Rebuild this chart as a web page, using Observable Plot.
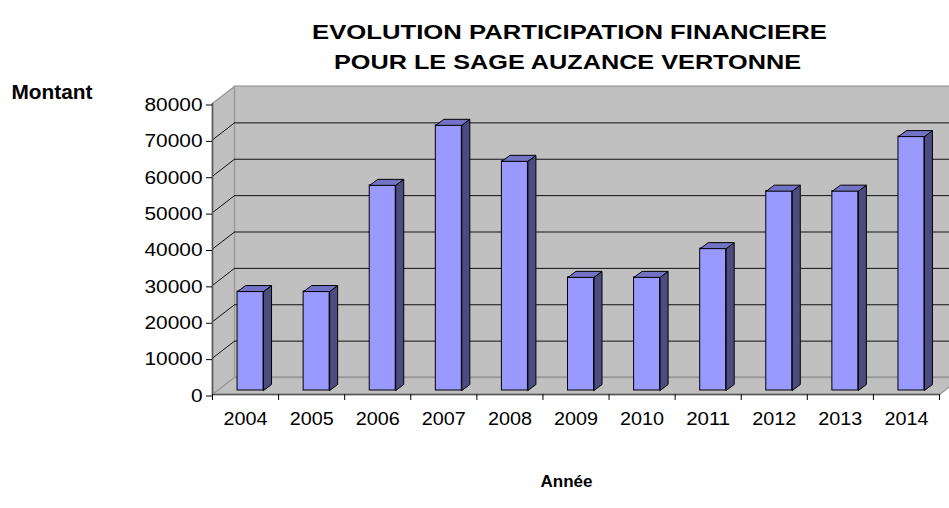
<!DOCTYPE html>
<html><head><meta charset="utf-8">
<script src="https://cdn.jsdelivr.net/npm/d3@7"></script>
<script src="https://cdn.jsdelivr.net/npm/@observablehq/plot@0.6"></script>
<style>html,body{margin:0;padding:0;background:#fff;overflow:hidden}</style>
</head><body><div id="chart"></div>
<script>
// ---- data ----
const years = [2004, 2005, 2006, 2007, 2008, 2009, 2010, 2011, 2012, 2013, 2014];
const amounts = [27200, 27200, 56400, 72900, 63000, 31100, 31100, 39000, 54800, 54800, 69800];
const yTicks = [0, 10000, 20000, 30000, 40000, 50000, 60000, 70000, 80000];
const titleLine1 = "EVOLUTION PARTICIPATION FINANCIERE";
const titleLine2 = "POUR LE SAGE AUZANCE VERTONNE";
const yLabel = "Montant";
const xLabel = "Année";

// ---- layout ----
const W = 949, H = 508;
const margin = {top: 103, right: 10, bottom: 114, left: 212};
const xDomain = [years[0] - 0.5, years[years.length - 1] + 0.5];
const yDomain = [yTicks[0], yTicks[yTicks.length - 1]];
const pxX = (xDomain[1] - xDomain[0]) / (W - margin.left - margin.right);
const pxY = (yDomain[1] - yDomain[0]) / (H - margin.top - margin.bottom);

// pseudo-3D depth offsets (pixels)
const wallDX = 22, wallDY = 17;
const barDX = 5, barDY = 4, barDepthX = 8, barDepthY = 6, barHalf = 13;

const wX = wallDX * pxX, wY = wallDY * pxY;
const x0 = xDomain[0], x1 = xDomain[1];
const hw = barHalf * pxX, ddx = barDepthX * pxX, ddy = barDepthY * pxY;

const data = years.map((year, i) => ({year, value: amounts[i]}));
const boundaries = [x0, ...years.map(y => y + 0.5)];

const pt = (id, x, y) => ({id, x, y});
const leftWall = [[x0, 0], [x0, yDomain[1]], [x0 + wX, yDomain[1] + wY], [x0 + wX, wY], [x0, 0]].map(([x, y]) => pt(0, x, y));
const floor = [[x0, 0], [x1, 0], [x1 + wX, wY], [x0 + wX, wY], [x0, 0]].map(([x, y]) => pt(0, x, y));
const sides = data.flatMap(d => {
  const xr = d.year + hw;
  return [[xr, 0], [xr + ddx, ddy], [xr + ddx, d.value + ddy], [xr, d.value], [xr, 0]].map(([x, y]) => pt(d.year, x, y));
});
const tops = data.flatMap(d => {
  const a = d.year - hw, b = d.year + hw, v = d.value;
  return [[a, v], [b, v], [b + ddx, v + ddy], [a + ddx, v + ddy], [a, v]].map(([x, y]) => pt(d.year, x, y));
});
const innerGrid = yTicks.slice(1, -1);
const fmtY = d3.format("d");

const chart = Plot.plot({
  width: W, height: H,
  marginTop: margin.top, marginRight: margin.right, marginBottom: margin.bottom, marginLeft: margin.left,
  x: {type: "linear", domain: xDomain},
  y: {type: "linear", domain: yDomain},
  style: {fontFamily: "'Liberation Sans', Arial, sans-serif", background: "#fff", color: "#000", overflow: "hidden"},
  marks: [
    // back wall
    Plot.rect([0], {x1: x0 + wX, x2: x1 + 3 * wX, y1: wY, y2: yDomain[1] + wY, fill: "#C0C0C0", stroke: "#8a8a8a"}),
    // left wall and floor
    Plot.line(leftWall, {x: "x", y: "y", fill: "#C0C0C0", stroke: "#9a9a9a"}),
    Plot.line(floor, {x: "x", y: "y", fill: "#C0C0C0", stroke: "#9a9a9a"}),
    // gridlines
    Plot.ruleY(innerGrid, {y: d => d + wY, x1: x0 + wX, x2: x1 + 3 * wX, stroke: "#111"}),
    Plot.link(innerGrid, {x1: x0, y1: d => d, x2: x0 + wX, y2: d => d + wY, stroke: "#111"}),
    // bars
    Plot.rect(data, {x1: d => d.year - hw, x2: d => d.year + hw, y1: 0, y2: "value", dx: barDX, dy: -barDY, fill: "#9999FF", stroke: "#000", strokeWidth: 1}),
    Plot.line(sides, {x: "x", y: "y", z: "id", dx: barDX, dy: -barDY, fill: "#4C4C80", stroke: "#000", strokeWidth: 1}),
    Plot.line(tops, {x: "x", y: "y", z: "id", dx: barDX, dy: -barDY, fill: "#7373C6", stroke: "#000", strokeWidth: 1}),
    // axis lines
    Plot.ruleX([x0], {y1: yDomain[0], y2: yDomain[1], stroke: "#555", strokeWidth: 1.5}),
    Plot.ruleY([0], {x1: x0, x2: x1, stroke: "#555", strokeWidth: 1.5}),
    // axes
    Plot.axisY(yTicks, {anchor: "left", tickSize: 6, tickPadding: 4, tickFormat: fmtY, fontSize: 18, label: null, dy: 1.5}),
    Plot.axisX(boundaries, {anchor: "bottom", tickSize: 6, tickFormat: () => "", label: null}),
    Plot.axisX(years, {anchor: "bottom", tickSize: 0, tickPadding: 17, tickFormat: d => String(d), fontSize: 19, label: null}),
    // titles and axis titles
    Plot.text([titleLine1], {frameAnchor: "top-left", text: d => d, dx: 569 - margin.left, dy: 23.3 - margin.top, fontSize: 21, fontWeight: "bold", textAnchor: "middle"}),
    Plot.text([titleLine2], {frameAnchor: "top-left", text: d => d, dx: 567 - margin.left, dy: 53.3 - margin.top, fontSize: 21, fontWeight: "bold", textAnchor: "middle"}),
    Plot.text([yLabel], {frameAnchor: "top-left", text: d => d, dx: 11 - margin.left, dy: 84.6 - margin.top, fontSize: 20, fontWeight: "bold", textAnchor: "start"}),
    Plot.text([xLabel], {frameAnchor: "top-left", text: d => d, dx: 566 - margin.left, dy: 474.6 - margin.top, fontSize: 17, fontWeight: "bold", textAnchor: "middle"})
  ]
});

// horizontally stretch texts to the widths seen in the reference
const stretch = new Map([[titleLine1, 515], [titleLine2, 467], [yLabel, 81]]);
yTicks.forEach(v => { const s = fmtY(v); stretch.set(s, 11.6 * s.length); });
years.forEach(v => { const s = String(v); stretch.set(s, 44); });
chart.querySelectorAll("text").forEach(t => {
  const s = t.textContent;
  if (stretch.has(s)) { t.setAttribute("textLength", stretch.get(s)); t.setAttribute("lengthAdjust", "spacingAndGlyphs"); }
});
document.getElementById("chart").appendChild(chart);
</script>
</body></html>
